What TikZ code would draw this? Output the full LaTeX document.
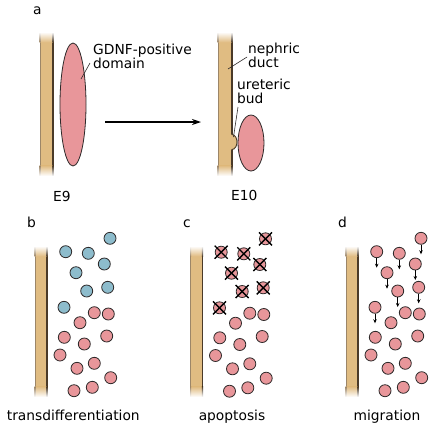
\documentclass[tikz,border=0pt]{standalone}
\usepackage{fontspec}
\setmainfont{DejaVu Sans}
\usetikzlibrary{shapes.geometric,arrows.meta}
\definecolor{ducttan}{HTML}{E0BC82}
\definecolor{ductleft}{HTML}{9C8668}
\definecolor{ductright}{HTML}{4A3A28}
\definecolor{cellpink}{HTML}{E8969A}
\definecolor{cellblue}{HTML}{8DBCCC}
\definecolor{cellline}{HTML}{2E2A2A}
% duct: x1 x2 y1 y2 ; solid middle, ends fading to white
\newcommand\mkduct[4]{%
  \fill[ducttan] (#1,#3+10) rectangle (#2,#4-10);
  \fill[ductleft] (#1-0.5,#3+10) rectangle (#1+0.5,#4-10);
  \fill[ductright] (#2-0.6,#3+10) rectangle (#2+0.6,#4-10);
  \shade[top color=white, bottom color=ducttan] (#1,#3) rectangle (#2,#3+10.2);
  \shade[top color=white, bottom color=ductleft] (#1-0.5,#3) rectangle (#1+0.5,#3+10.2);
  \shade[top color=white, bottom color=ductright] (#2-0.6,#3) rectangle (#2+0.6,#3+10.2);
  \shade[top color=ducttan, bottom color=white] (#1,#4-10.2) rectangle (#2,#4);
  \shade[top color=ductleft, bottom color=white] (#1-0.5,#4-10.2) rectangle (#1+0.5,#4);
  \shade[top color=ductright, bottom color=white] (#2-0.6,#4-10.2) rectangle (#2+0.6,#4);
}
\begin{document}
\begin{tikzpicture}[x=1pt,y=-1pt,
  lbl/.style={font=\fontsize{13.8}{14}\selectfont, inner sep=0pt},
  pinkcell/.style={circle, draw=cellline, fill=cellpink, minimum size=12pt, inner sep=0pt, line width=0.8pt},
  bluecell/.style={circle, draw=cellline, fill=cellblue, minimum size=12pt, inner sep=0pt, line width=0.8pt},
  domainshape/.style={ellipse, draw=cellline, fill=cellpink, inner sep=0pt, line width=0.8pt},
  edge/.style={ductright, line width=1.2pt},
  leader/.style={line width=0.6pt, cellline},
  crossline/.style={line width=1.4pt, black},
  migr/.style={line width=0.7pt, -{Stealth[length=4pt,width=3.5pt]}}]
\fill[white] (0,0) rectangle (436,432);
\useasboundingbox (0,0) rectangle (436,432);

% ---------- panel a ----------
\node[lbl, anchor=base west] (la) at (33,14) {a};
% left duct E9
\mkduct{40}{53}{32}{176}
\node[domainshape, minimum width=26pt, minimum height=123pt] (gdnf) at (73,104.5) {};
\node[lbl, anchor=north west, align=left] (tgdnf) at (93,43.5) {GDNF-positive\\domain};
\coordinate (g1) at (90,63);
\coordinate (g2) at (81,79);
\draw[leader] (g1) -- (g2);
\node[lbl, anchor=base west] (e9) at (53,201.7) {E9};

% arrow
\coordinate (arrS) at (105,122);
\coordinate (arrE) at (201,122);
\draw[line width=1.1pt, -{Stealth[length=9pt,width=6pt]}] (arrS) -- (arrE);

% right duct E10 with ureteric bud
\mkduct{218}{232}{32}{176}
\fill[ducttan] (232,142) ellipse[x radius=5, y radius=7.5];
\fill[ducttan] (231.2,134.8) rectangle (232.8,149.2);
\draw[edge, line width=0.9pt] (232,134.5) arc[start angle=-90, end angle=90, x radius=5, y radius=7.5];
\node[domainshape, minimum width=26pt, minimum height=56pt] (bud) at (251,143) {};
\node[lbl, anchor=north west, align=left] (tneph) at (248,42.5) {nephric\\duct};
\coordinate (n1) at (247,57);
\coordinate (n2) at (228,69);
\draw[leader] (n1) -- (n2);
\node[lbl, anchor=north west, align=left] (turet) at (237,78.5) {ureteric\\bud};
\coordinate (u1) at (238,107);
\coordinate (u2) at (233.5,137);
\draw[leader] (u1) -- (u2);
\node[lbl, anchor=base west] (e10) at (231,200) {E10};

% ---------- panels b, c, d ----------
\node[lbl, anchor=base west] (lb) at (27,227.5) {b};
\node[lbl, anchor=base west] (lc) at (183,227.5) {c};
\node[lbl, anchor=base west] (ld) at (338,227.5) {d};

\mkduct{35}{47}{246}{397}
\mkduct{190.5}{202.5}{246}{397}
\mkduct{346}{358}{246}{397}

% top (changing) cells
\foreach [count=\i] \x/\y in {110/238.3,65.7/251.7,88.3/253.3,104.3/264,76/272.7,86.7/291,107.7/287.3,64/307.3}{
  \node[bluecell] (tb\i) at (\x,\y) {};
  \node[pinkcell] (tc\i) at (\x+155.5,\y+0.5) {};
  \draw[crossline] (tc\i.center) ++(-6.5,-6.5) -- ++(13,13);
  \draw[crossline] (tc\i.center) ++(-6.5,6.5) -- ++(13,-13);
  \node[pinkcell] (td\i) at (\x+311,\y) {};
  \coordinate (tdend\i) at (\x+311,\y+16);
  \draw[migr] (td\i.south) -- (tdend\i);
}
% bottom (stable) cells
\foreach [count=\i] \x/\y in {94.3/312.7,108.3/314,80/322.7,64.3/337.3,84.3/344,106.7/336,60/355,94.3/363.3,77/368.3,110.7/377.7,92.3/387.3,74/390.7}{
  \node[pinkcell] (bb\i) at (\x,\y) {};
  \node[pinkcell] (bc\i) at (\x+155.5,\y+0.5) {};
  \node[pinkcell] (bd\i) at (\x+311,\y) {};
}

\node[lbl, anchor=base] (ttrans) at (73.3,420) {transdifferentiation};
\node[lbl, anchor=base] (tapop) at (232,420) {apoptosis};
\node[lbl, anchor=base] (tmigr) at (387,420) {migration};
\end{tikzpicture}
\end{document}
